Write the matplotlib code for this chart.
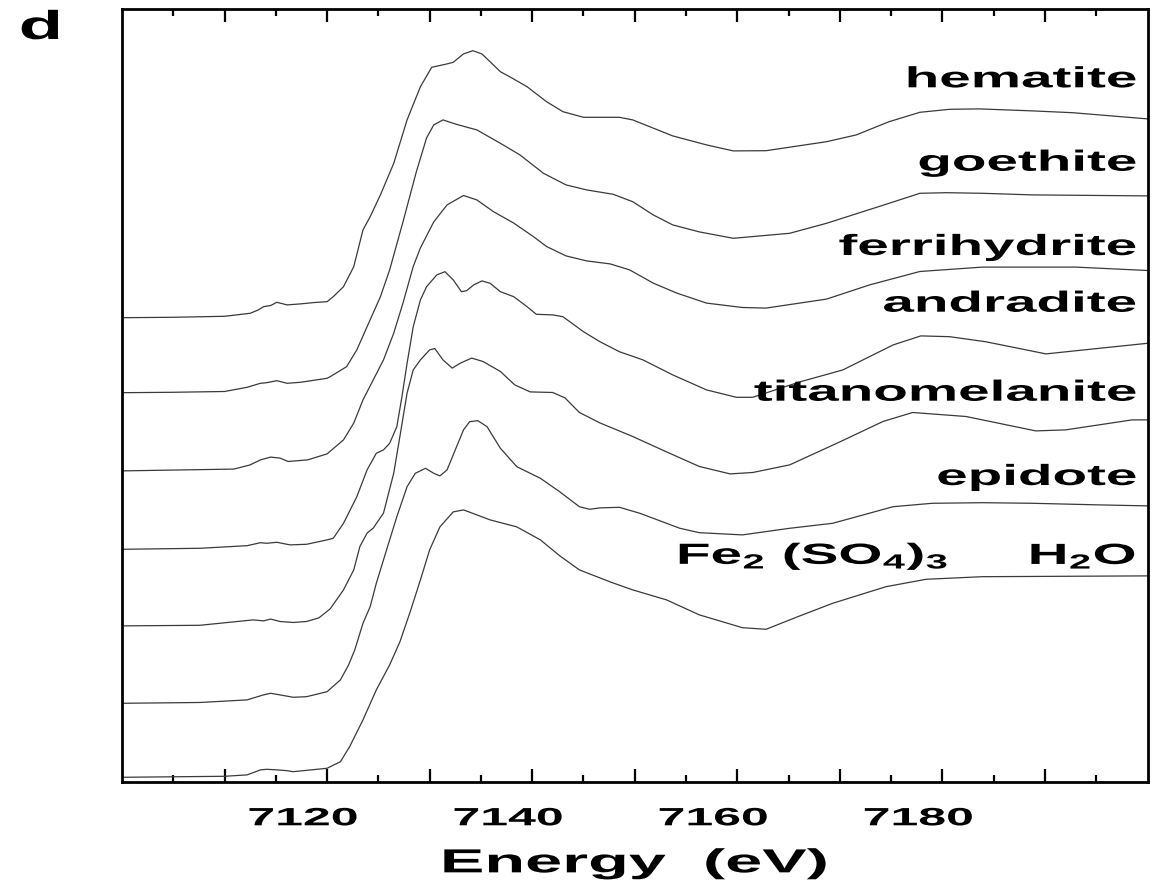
import numpy as np
import matplotlib
matplotlib.use("Agg")
import matplotlib.pyplot as plt
from matplotlib.patheffects import AbstractPathEffect
from matplotlib.transforms import Affine2D
from matplotlib.path import Path

plt.rcParams['font.family'] = ['Liberation Sans', 'DejaVu Sans']
plt.rcParams['font.weight'] = 'bold'
plt.rcParams['mathtext.fontset'] = 'custom'
plt.rcParams['mathtext.rm'] = 'Liberation Sans:bold'
plt.rcParams['mathtext.it'] = 'Liberation Sans:bold'
plt.rcParams['mathtext.bf'] = 'Liberation Sans:bold'

# ---------------- data (normalized Fe K-edge XANES) -------------
hematite_E = [7100.0, 7104.9, 7110.0, 7112.5, 7113.3, 7113.8, 7114.5, 7115.1, 7116.1, 7117.4,
              7118.8, 7120.0, 7120.6, 7121.6, 7122.6, 7123.5, 7124.2, 7125.2, 7126.5, 7127.8,
              7129.1, 7130.2, 7131.7, 7132.3, 7133.3, 7134.2, 7135.1, 7136.9, 7137.8, 7139.5,
              7141.4, 7143.0, 7145.0, 7146.6, 7148.5, 7149.8, 7153.7, 7157.0, 7159.6, 7162.8,
              7168.7, 7171.6, 7174.8, 7177.8, 7180.7, 7183.6, 7188.8, 7192.7, 7200.0]
hematite_mu = [0.000, 0.002, 0.007, 0.022, 0.039, 0.055, 0.061, 0.077, 0.064, 0.069,
               0.076, 0.080, 0.105, 0.155, 0.255, 0.439, 0.505, 0.614, 0.772, 0.989,
               1.155, 1.252, 1.269, 1.277, 1.319, 1.335, 1.319, 1.230, 1.205, 1.155,
               1.080, 1.030, 1.002, 1.002, 1.002, 0.989, 0.909, 0.864, 0.834, 0.835,
               0.880, 0.914, 0.980, 1.027, 1.042, 1.044, 1.034, 1.025, 0.994]

goethite_E = [7100.0, 7104.9, 7110.0, 7112.2, 7113.5, 7114.1, 7115.1, 7116.1, 7117.4, 7120.0,
              7120.3, 7121.9, 7122.9, 7123.9, 7125.2, 7126.1, 7127.4, 7128.7, 7129.7, 7130.4,
              7131.3, 7132.6, 7134.6, 7136.9, 7138.8, 7141.1, 7143.3, 7145.3, 7147.9, 7149.8,
              7151.8, 7153.7, 7156.3, 7159.6, 7165.1, 7168.7, 7174.8, 7177.8, 7180.4, 7183.9,
              7188.8, 7200.0]
goethite_mu = [0.000, 0.002, 0.006, 0.027, 0.047, 0.050, 0.060, 0.047, 0.052, 0.072,
               0.080, 0.130, 0.214, 0.330, 0.480, 0.614, 0.854, 1.104, 1.274, 1.339,
               1.364, 1.342, 1.314, 1.247, 1.189, 1.097, 1.039, 1.014, 0.992, 0.955,
               0.889, 0.839, 0.804, 0.772, 0.797, 0.847, 0.947, 0.997, 1.000, 0.997,
               0.989, 0.984]

ferrihydrite_E = [7100.0, 7110.9, 7112.5, 7113.5, 7114.5, 7115.4, 7116.2, 7118.1, 7120.0,
                  7121.6, 7122.6, 7123.5, 7124.5, 7125.5, 7126.5, 7127.4, 7128.4, 7129.1, 7130.4,
                  7131.7, 7133.3, 7134.6, 7136.2, 7138.2, 7140.1, 7141.4, 7143.3, 7145.3, 7147.6,
                  7149.5, 7151.8, 7154.1, 7157.0, 7160.5, 7162.8, 7168.7, 7172.9, 7177.8, 7183.9,
                  7193.0, 7200.0]
ferrihydrite_mu = [0.000, 0.009, 0.030, 0.055, 0.069, 0.064, 0.047, 0.055, 0.085,
                   0.155, 0.239, 0.355, 0.455, 0.555, 0.689, 0.839, 1.022, 1.115, 1.245,
                   1.330, 1.377, 1.355, 1.297, 1.239, 1.172, 1.122, 1.075, 1.050, 1.035,
                   1.005, 0.939, 0.889, 0.839, 0.817, 0.814, 0.859, 0.930, 0.997, 1.019,
                   1.019, 1.002]

andradite_E = [7100.0, 7107.6, 7112.2, 7113.5, 7114.1, 7115.1, 7116.4, 7118.0, 7120.0, 7120.6,
               7121.6, 7122.9, 7123.9, 7124.8, 7125.5, 7126.1, 7126.8, 7127.3, 7127.8, 7128.4,
               7129.1, 7129.7, 7130.7, 7131.5, 7132.3, 7133.1, 7133.6, 7134.3, 7135.1, 7135.9,
               7136.9, 7138.2, 7139.5, 7140.4, 7142.0, 7143.0, 7145.0, 7146.6, 7148.5, 7150.8,
               7153.7, 7157.0, 7159.9, 7161.5, 7166.1, 7170.3, 7171.9, 7175.2, 7177.9, 7180.7,
               7184.2, 7190.1, 7195.3, 7200.0]
andradite_mu = [0.000, 0.005, 0.018, 0.033, 0.030, 0.035, 0.022, 0.025, 0.047, 0.055,
                0.130, 0.263, 0.397, 0.480, 0.497, 0.530, 0.613, 0.763, 0.930, 1.113,
                1.247, 1.313, 1.372, 1.388, 1.347, 1.288, 1.293, 1.322, 1.342, 1.330,
                1.288, 1.263, 1.213, 1.175, 1.172, 1.163, 1.088, 1.038, 0.988, 0.947,
                0.872, 0.797, 0.760, 0.760, 0.837, 0.897, 0.938, 1.022, 1.067, 1.063,
                1.038, 0.977, 1.005, 1.030]

titanomelanite_E = [7100.0, 7107.6, 7112.8, 7113.8, 7114.5, 7115.4, 7116.7, 7118.0, 7119.2, 7120.3,
                    7121.6, 7122.6, 7123.2, 7123.9, 7124.5, 7125.5, 7126.5, 7127.1, 7127.8, 7128.4,
                    7129.1, 7130.0, 7130.5, 7131.3, 7132.2, 7133.0, 7134.1, 7135.2, 7136.9, 7138.3,
                    7139.8, 7142.0, 7143.2, 7144.6, 7146.6, 7149.8, 7153.1, 7156.3, 7159.3, 7161.5,
                    7165.1, 7170.0, 7174.2, 7177.1, 7182.3, 7189.1, 7192.0, 7198.5, 7200.0]
titanomelanite_mu = [0.000, 0.003, 0.030, 0.025, 0.034, 0.022, 0.017, 0.022, 0.040, 0.085,
                     0.180, 0.280, 0.397, 0.464, 0.489, 0.564, 0.764, 0.947, 1.164, 1.280,
                     1.330, 1.380, 1.387, 1.330, 1.289, 1.314, 1.339, 1.322, 1.272, 1.205,
                     1.170, 1.167, 1.140, 1.067, 1.015, 0.947, 0.870, 0.797, 0.760, 0.767,
                     0.805, 0.920, 1.022, 1.067, 1.047, 0.975, 0.980, 1.030, 1.030]

epidote_E = [7100.0, 7107.6, 7112.2, 7113.8, 7114.5, 7115.4, 7116.7, 7118.0, 7120.0, 7121.3,
             7122.1, 7122.7, 7123.5, 7124.2, 7124.8, 7125.8, 7126.8, 7127.8, 7128.6, 7129.6,
             7130.4, 7131.0, 7131.7, 7132.5, 7133.3, 7133.9, 7134.7, 7135.6, 7136.2, 7136.9,
             7138.5, 7140.8, 7142.7, 7144.6, 7145.6, 7146.6, 7148.5, 7150.5, 7154.4, 7156.3,
             7160.5, 7165.1, 7169.3, 7175.2, 7179.0, 7183.9, 7188.8, 7195.3, 7200.0]
epidote_mu = [0.000, 0.004, 0.017, 0.042, 0.050, 0.042, 0.030, 0.033, 0.058, 0.117,
              0.192, 0.267, 0.400, 0.483, 0.600, 0.767, 0.933, 1.083, 1.150, 1.175,
              1.150, 1.137, 1.167, 1.267, 1.367, 1.408, 1.413, 1.383, 1.333, 1.275,
              1.183, 1.125, 1.057, 0.983, 0.970, 0.977, 0.980, 0.950, 0.875, 0.853,
              0.842, 0.875, 0.900, 0.983, 1.000, 1.003, 1.000, 0.992, 0.987]

fesulfate_E = [7100.0, 7110.0, 7112.2, 7113.5, 7114.1, 7115.1, 7116.1, 7116.7, 7120.0, 7121.3,
               7122.2, 7123.5, 7124.8, 7126.1, 7127.1, 7128.1, 7129.1, 7130.0, 7131.0, 7132.3,
               7133.3, 7134.6, 7135.9, 7138.5, 7140.8, 7142.7, 7144.6, 7147.6, 7149.8, 7153.1,
               7156.3, 7160.5, 7162.8, 7166.1, 7169.3, 7174.5, 7178.4, 7183.9, 7200.0]
fesulfate_mu = [0.000, 0.005, 0.012, 0.037, 0.040, 0.037, 0.033, 0.028, 0.045, 0.078,
                0.153, 0.287, 0.437, 0.562, 0.677, 0.827, 0.987, 1.137, 1.252, 1.327,
                1.337, 1.312, 1.287, 1.252, 1.187, 1.107, 1.037, 0.977, 0.937, 0.887,
                0.812, 0.748, 0.740, 0.807, 0.870, 0.953, 0.990, 1.003, 1.007]

sample_names = ['hematite', 'goethite', 'ferrihydrite', 'andradite',
                'titanomelanite', 'epidote', 'Fe$_2$ (SO$_4$)$_3$']
stack_offsets = [2.298, 1.923, 1.532, 1.140, 0.757, 0.370, 0.000]

major_ticks = [7110, 7120, 7130, 7140, 7150, 7160, 7170, 7180, 7190]
major_labels = ['', '7120', '', '7140', '', '7160', '', '7180', '']
minor_ticks = [7105, 7115, 7125, 7135, 7145, 7155, 7165, 7175, 7185, 7195]


# ------- path effect: widen glyphs horizontally (the original lettering is extended) -------
class HStretch(AbstractPathEffect):
    def __init__(self, sx=2.0, anchor='center', dx=0.0):
        super().__init__()
        self.sx = sx
        self.anchor = anchor
        self.dx = dx

    def draw_path(self, renderer, gc, tpath, affine, rgbFace=None):
        v = tpath.vertices
        if tpath.codes is not None:
            v = v[np.asarray(tpath.codes) != Path.CLOSEPOLY]
        if len(v) == 0:
            renderer.draw_path(gc, tpath, affine, rgbFace)
            return
        xs = affine.transform(v)[:, 0]
        x0, x1 = xs.min(), xs.max()
        cx = {'left': x0, 'center': 0.5 * (x0 + x1), 'right': x1}[self.anchor]
        dxp = renderer.points_to_pixels(self.dx)
        t = affine + Affine2D().translate(-cx, 0).scale(self.sx, 1.0).translate(cx + dxp, 0)
        renderer.draw_path(gc, tpath, t, rgbFace)


fig = plt.figure(figsize=(11.65, 8.86), dpi=100)
ax = fig.add_axes([0.1047, 0.1174, 0.8803, 0.8721])

curves = [(hematite_E, hematite_mu), (goethite_E, goethite_mu),
          (ferrihydrite_E, ferrihydrite_mu), (andradite_E, andradite_mu),
          (titanomelanite_E, titanomelanite_mu), (epidote_E, epidote_mu),
          (fesulfate_E, fesulfate_mu)]
for (E, mu), off in zip(curves, stack_offsets):
    ax.plot(E, np.asarray(mu) + off, color='#3a3a3a', lw=0.9, solid_joinstyle='round')

ax.set_xlim(7100, 7200)
ax.set_ylim(-0.0235, 3.84)
ax.set_yticks([])

ax.set_xticks(major_ticks)
ax.set_xticklabels(major_labels)
ax.set_xticks(minor_ticks, minor=True)
ax.tick_params(axis='x', which='major', direction='in', length=9.5, width=1.6,
               top=True, bottom=True, labelsize=18, pad=17.5)
ax.tick_params(axis='x', which='minor', direction='in', length=5, width=1.6,
               top=True, bottom=True)
for s in ax.spines.values():
    s.set_linewidth(2.0)

for tk in ax.xaxis.get_major_ticks():
    tk.label1.set_fontweight('bold')
    tk.label1.set_path_effects([HStretch(2.0, 'center', dx=-17.3)])

ax.set_xlabel('Energy  (eV)', fontsize=24, fontweight='bold', labelpad=13,
              path_effects=[HStretch(2.0, 'center')])

# curve labels
label_x = 7198.9
label_y = [3.450, 3.033, 2.6115, 2.328, 1.883, 1.4615]
for name, y in zip(sample_names[:6], label_y):
    ax.text(label_x, y, name, ha='right', va='baseline', fontsize=21, fontweight='bold',
            path_effects=[HStretch(1.94, 'right')])
ax.text(7154.2, 1.0665, sample_names[6], ha='left', va='baseline', fontsize=21,
        fontweight='bold', path_effects=[HStretch(1.94, 'left')])
ax.text(label_x, 1.0665, 'H$_2$O', ha='right', va='baseline', fontsize=21,
        fontweight='bold', path_effects=[HStretch(1.94, 'right')])

fig.text(0.0172, 0.956, 'd', ha='left', va='baseline', fontsize=29, fontweight='bold',
         path_effects=[HStretch(1.8, 'left')])

fig.savefig('out.png', dpi=100)
